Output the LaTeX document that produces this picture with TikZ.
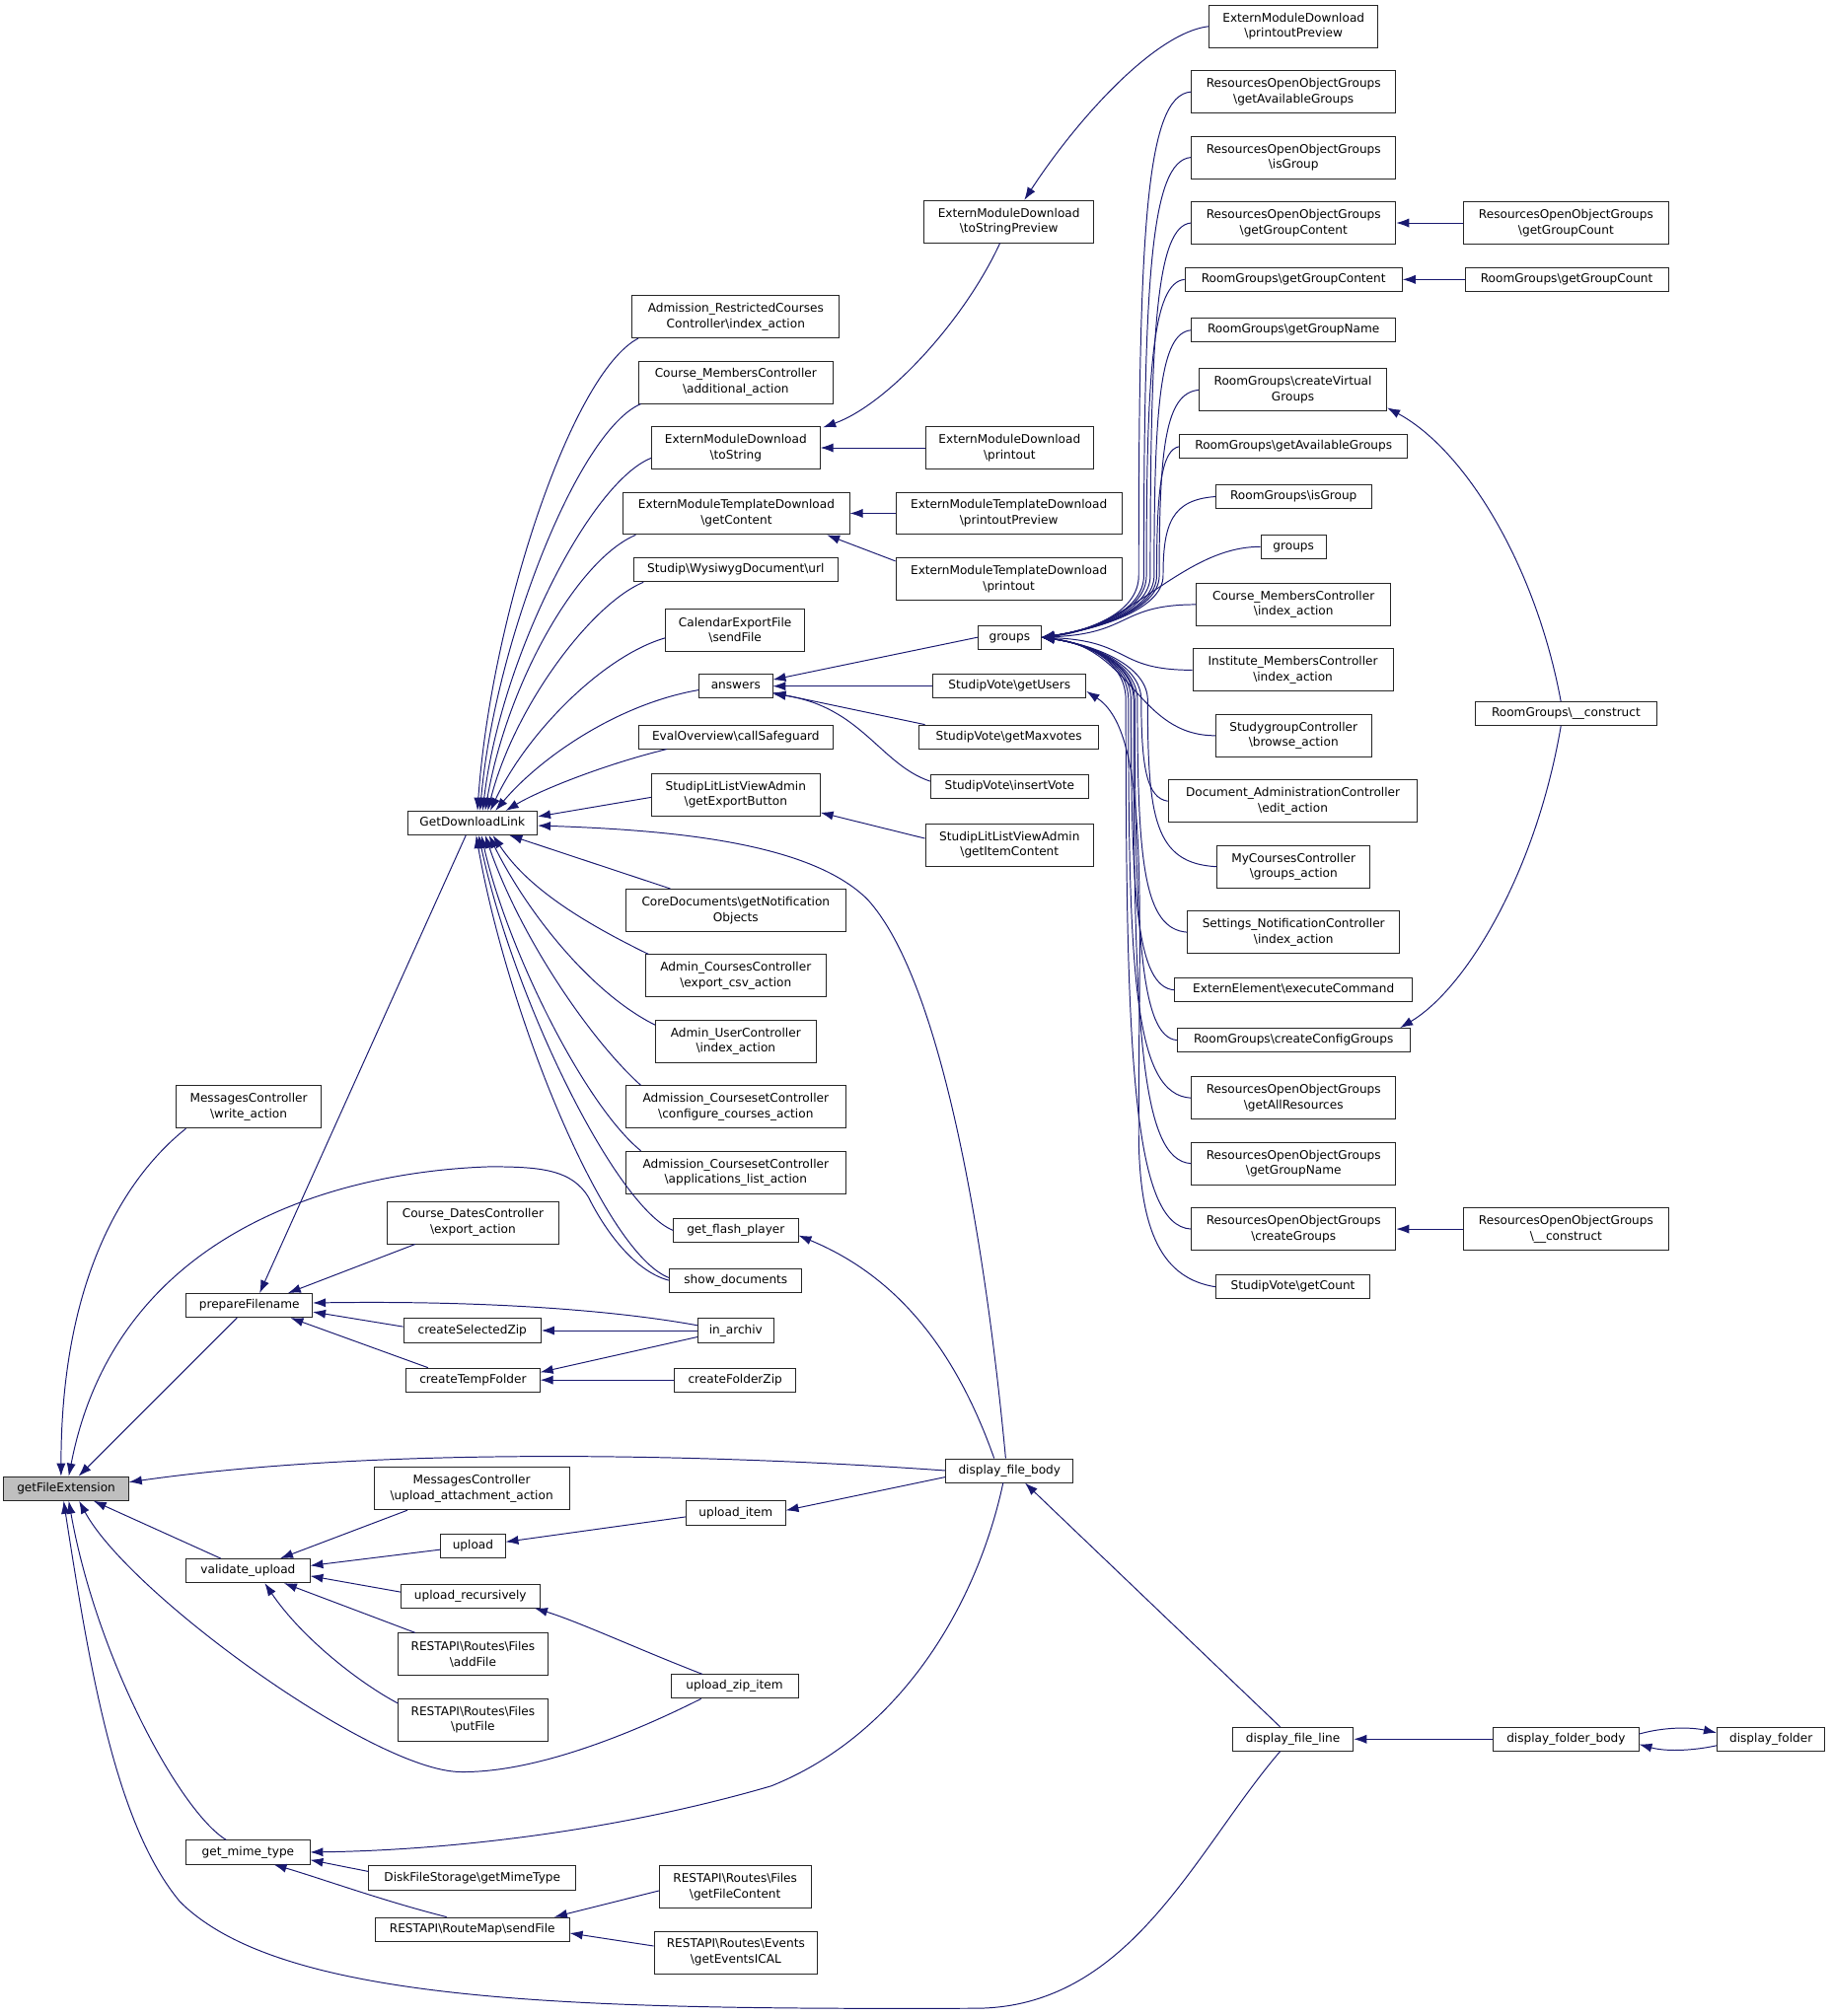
\documentclass[tikz,border=0pt]{standalone}
\usepackage{fontspec}
\setmainfont{DejaVu Sans}
\usepackage{tikz}
\usetikzlibrary{arrows.meta}
\definecolor{dox-edge}{RGB}{25,25,112}
\definecolor{dox-root}{RGB}{191,191,191}
\newcommand{\bsl}{\textbackslash}
\tikzstyle{fn}=[draw=black!85,line width=0.7pt,fill=white,inner sep=2pt,minimum height=18.5pt,text height=7pt,text depth=2.2pt,font=\fontsize{9.3pt}{12pt}\selectfont]
\tikzstyle{fn2}=[draw=black!85,line width=0.7pt,fill=white,inner sep=2pt,minimum height=33pt,align=center,font=\fontsize{9.3pt}{12pt}\selectfont]
\tikzstyle{root}=[fn,fill=dox-root]
\tikzstyle{call}=[draw=dox-edge,line width=0.75pt,-{Latex[length=10pt,width=7pt]}]

\begin{document}
\begin{tikzpicture}[x=1pt,y=-1pt]
  \useasboundingbox (0,0) rectangle (1425,1569);

  \node[root,minimum width=97pt] at (51.5,1158.5) (gfe) {getFileExtension};

  \node[fn2,minimum width=113pt] at (193.5,861.5) (writeact) {MessagesController\\\bsl write\_action};
  \node[fn,minimum width=98pt] at (194,1016) (prepfn) {prepareFilename};
  \node[fn,minimum width=96pt] at (193,1222.5) (valup) {validate\_upload};
  \node[fn,minimum width=96pt] at (193,1441.5) (getmime) {get\_mime\_type};

  \node[fn,minimum width=101pt] at (367.5,640.5) (gdl) {GetDownloadLink};
  \node[fn2,minimum width=134pt] at (368,951.5) (crsdates) {Course\_DatesController\\\bsl export\_action};
  \node[fn,minimum width=107pt] at (367.5,1035.5) (selzip) {createSelectedZip};
  \node[fn,minimum width=104pt] at (368,1074) (tmpfolder) {createTempFolder};
  \node[fn2,minimum width=152pt] at (367,1158.5) (upattach) {MessagesController\\\bsl upload\_attachment\_action};
  \node[fn,minimum width=50pt] at (368,1203) (upload) {upload};
  \node[fn,minimum width=108pt] at (366,1242) (uprec) {upload\_recursively};
  \node[fn2,minimum width=116pt] at (368,1287.5) (addfile) {RESTAPI\bsl Routes\bsl Files\\\bsl addFile};
  \node[fn2,minimum width=116pt] at (368,1338.5) (putfile) {RESTAPI\bsl Routes\bsl Files\\\bsl putFile};
  \node[fn,minimum width=161pt] at (367.5,1461.5) (diskmime) {DiskFileStorage\bsl getMimeType};
  \node[fn,minimum width=151pt] at (367.5,1501.5) (sendfile) {RESTAPI\bsl RouteMap\bsl sendFile};

  \node[fn2,minimum width=161pt] at (572.5,246.5) (admrestr) {Admission\_RestrictedCourses\\Controller\bsl index\_action};
  \node[fn2,minimum width=151pt] at (572.5,297.5) (crsmemadd) {Course\_MembersController\\\bsl additional\_action};
  \node[fn2,minimum width=131pt] at (572.5,348.5) (emdtostr) {ExternModuleDownload\\\bsl toString};
  \node[fn2,minimum width=176pt] at (573,399.5) (emtgetcont) {ExternModuleTemplateDownload\\\bsl getContent};
  \node[fn,minimum width=159pt] at (572.5,443.5) (wysiwyg) {Studip\bsl WysiwygDocument\bsl url};
  \node[fn2,minimum width=108pt] at (572,490.5) (calsend) {CalendarExportFile\\\bsl sendFile};
  \node[fn,minimum width=57pt] at (572.5,534) (answers) {answers};
  \node[fn,minimum width=151pt] at (572.5,573.5) (evalsafe) {EvalOverview\bsl callSafeguard};
  \node[fn2,minimum width=131pt] at (572.5,618.5) (litexport) {StudipLitListViewAdmin\\\bsl getExportButton};
  \node[fn2,minimum width=171pt] at (572.5,708.5) (corenotif) {CoreDocuments\bsl getNotification\\Objects};
  \node[fn2,minimum width=141pt] at (572.5,759.5) (admcourses) {Admin\_CoursesController\\\bsl export\_csv\_action};
  \node[fn2,minimum width=125pt] at (572.5,810.5) (admuser) {Admin\_UserController\\\bsl index\_action};
  \node[fn2,minimum width=171pt] at (572.5,861.5) (admconf) {Admission\_CoursesetController\\\bsl configure\_courses\_action};
  \node[fn2,minimum width=171pt] at (572.5,912.5) (admapps) {Admission\_CoursesetController\\\bsl applications\_list\_action};
  \node[fn,minimum width=97pt] at (572.5,957.5) (flash) {get\_flash\_player};
  \node[fn,minimum width=103pt] at (572.5,996.5) (showdocs) {show\_documents};
  \node[fn,minimum width=59pt] at (572.5,1035.5) (inarchiv) {in\_archiv};
  \node[fn,minimum width=94pt] at (572,1074) (folderzip) {createFolderZip};
  \node[fn,minimum width=77pt] at (572.5,1177.5) (upitem) {upload\_item};
  \node[fn,minimum width=99pt] at (571.5,1312.5) (upzip) {upload\_zip\_item};
  \node[fn2,minimum width=118pt] at (572,1468.5) (getfilecont) {RESTAPI\bsl Routes\bsl Files\\\bsl getFileContent};
  \node[fn2,minimum width=127pt] at (572.5,1519.5) (geticals) {RESTAPI\bsl Routes\bsl Events\\\bsl getEventsICAL};

  \node[fn2,minimum width=132pt] at (785,172.5) (emdprevstr) {ExternModuleDownload\\\bsl toStringPreview};
  \node[fn2,minimum width=131pt] at (785.5,348.5) (emdprint) {ExternModuleDownload\\\bsl printout};
  \node[fn2,minimum width=176pt] at (785,399.5) (emtprintprev) {ExternModuleTemplateDownload\\\bsl printoutPreview};
  \node[fn2,minimum width=176pt] at (785,450.5) (emtprint) {ExternModuleTemplateDownload\\\bsl printout};
  \node[fn,minimum width=49pt] at (785.5,496) (groups) {groups};
  \node[fn,minimum width=119pt] at (785.5,534) (getusers) {StudipVote\bsl getUsers};
  \node[fn,minimum width=140pt] at (785,573.5) (getmax) {StudipVote\bsl getMaxvotes};
  \node[fn,minimum width=123pt] at (785.5,612) (insvote) {StudipVote\bsl insertVote};
  \node[fn2,minimum width=131pt] at (785.5,657.5) (litcontent) {StudipLitListViewAdmin\\\bsl getItemContent};
  \node[fn,minimum width=99pt] at (785.5,1144.5) (filebody) {display\_file\_body};

  \node[fn2,minimum width=131pt] at (1006.5,20.5) (emdprintprev) {ExternModuleDownload\\\bsl printoutPreview};
  \node[fn2,minimum width=159pt] at (1006.5,71.5) (roogavail) {ResourcesOpenObjectGroups\\\bsl getAvailableGroups};
  \node[fn2,minimum width=159pt] at (1006.5,122.5) (roogis) {ResourcesOpenObjectGroups\\\bsl isGroup};
  \node[fn2,minimum width=159pt] at (1006.5,173.5) (roogcont) {ResourcesOpenObjectGroups\\\bsl getGroupContent};
  \node[fn,minimum width=169pt] at (1006.5,217.5) (rgcont) {RoomGroups\bsl getGroupContent};
  \node[fn,minimum width=159pt] at (1006.5,257) (rgname) {RoomGroups\bsl getGroupName};
  \node[fn2,minimum width=146pt] at (1006,303.5) (rgvirt) {RoomGroups\bsl createVirtual\\Groups};
  \node[fn,minimum width=177pt] at (1006.5,347.5) (rgavail) {RoomGroups\bsl getAvailableGroups};
  \node[fn,minimum width=121pt] at (1006.5,386.5) (rgis) {RoomGroups\bsl isGroup};
  \node[fn,minimum width=51pt] at (1006.5,425.5) (groupsb) {groups};
  \node[fn2,minimum width=151pt] at (1006.5,470.5) (crsmemidx) {Course\_MembersController\\\bsl index\_action};
  \node[fn2,minimum width=156pt] at (1006,521.5) (instmem) {Institute\_MembersController\\\bsl index\_action};
  \node[fn2,minimum width=121pt] at (1006.5,572.5) (studygrp) {StudygroupController\\\bsl browse\_action};
  \node[fn2,minimum width=194pt] at (1006,623.5) (docadmin) {Document\_AdministrationController\\\bsl edit\_action};
  \node[fn2,minimum width=119pt] at (1006.5,674.5) (mycourses) {MyCoursesController\\\bsl groups\_action};
  \node[fn2,minimum width=165pt] at (1006.5,725.5) (notif) {Settings\_NotificationController\\\bsl index\_action};
  \node[fn,minimum width=185pt] at (1006.5,770.5) (extcmd) {ExternElement\bsl executeCommand};
  \node[fn,minimum width=181pt] at (1006.5,809.5) (rgconfig) {RoomGroups\bsl createConfigGroups};
  \node[fn2,minimum width=159pt] at (1006.5,854.5) (roogallres) {ResourcesOpenObjectGroups\\\bsl getAllResources};
  \node[fn2,minimum width=159pt] at (1006.5,905.5) (roogname) {ResourcesOpenObjectGroups\\\bsl getGroupName};
  \node[fn2,minimum width=159pt] at (1006.5,956.5) (roogcreate) {ResourcesOpenObjectGroups\\\bsl createGroups};
  \node[fn,minimum width=120pt] at (1006,1001.5) (svcount) {StudipVote\bsl getCount};
  \node[fn,minimum width=94pt] at (1006,1353.5) (fileline) {display\_file\_line};

  \node[fn2,minimum width=159pt] at (1218.5,173.5) (rooggcount) {ResourcesOpenObjectGroups\\\bsl getGroupCount};
  \node[fn,minimum width=158pt] at (1219,217.5) (rggcount) {RoomGroups\bsl getGroupCount};
  \node[fn,minimum width=141pt] at (1218.5,555.5) (rgconstr) {RoomGroups\bsl \_\_construct};
  \node[fn2,minimum width=159pt] at (1218.5,956.5) (roogconstr) {ResourcesOpenObjectGroups\\\bsl \_\_construct};
  \node[fn,minimum width=113pt] at (1218.5,1353.5) (folderbody) {display\_folder\_body};
  \node[fn,minimum width=84pt] at (1378,1353.5) (folder) {display\_folder};

  \draw[call] ([xshift=8pt]writeact.south west) .. controls +(-50,40) and +(0,-150) .. ([xshift=-4pt]gfe.north);
  \draw[call] (showdocs.west) .. controls (495,990) and (472,960) .. (458,932) .. controls (445,910) and (420,908) .. (381,908) .. controls (260,912) and (90,960) .. ([xshift=2pt]gfe.north);
  \draw[call] (prepfn) -- (gfe);
  \draw[call] (filebody.west) .. controls (560,1132) and (300,1125) .. ([yshift=5pt]gfe.east);
  \draw[call] (valup) -- (gfe);
  \draw[call] ([xshift=-26pt]upzip.south) .. controls (500,1345) and (420,1380) .. (358,1379) .. controls (290,1378) and (100,1240) .. ([xshift=10pt]gfe.south);
  \draw[call] ([xshift=-17pt]getmime.north) .. controls (140,1410) and (75,1290) .. ([xshift=2pt]gfe.south);
  \draw[call] ([xshift=-10pt]fileline.south) .. controls (930,1440) and (880,1562) .. (760,1563) .. controls (450,1564) and (220,1560) .. (140,1480) .. controls (90,1420) and (70,1300) .. ([xshift=-2pt]gfe.south);

  \draw[call] ([xshift=-5pt]gdl.south) -- ([xshift=8pt]prepfn.north);
  \draw[call] ([xshift=-45pt]crsdates.south) -- ([xshift=30pt]prepfn.north);
  \draw[call] ([yshift=4pt]inarchiv.west) .. controls (480,1020) and (380,1012) .. ([yshift=2pt]prepfn.east);
  \draw[call] ([yshift=3pt]selzip.west) -- ([yshift=-5pt]prepfn.east);
  \draw[call] ([xshift=-35pt]tmpfolder.north) -- ([xshift=32pt]prepfn.south);
  \draw[call] (inarchiv.west) -- (selzip.east);
  \draw[call] ([yshift=-5pt]inarchiv.west) -- ([yshift=6pt]tmpfolder.east);
  \draw[call] (folderzip.west) -- (tmpfolder.east);

  \draw[call] ([xshift=-50pt]upattach.south) -- ([xshift=25pt]valup.north);
  \draw[call] ([yshift=-3pt]upload.west) -- ([yshift=4pt]valup.east);
  \draw[call] ([yshift=3pt]uprec.west) -- ([yshift=-4pt]valup.east);
  \draw[call] ([xshift=-45pt]addfile.north) -- ([xshift=28pt]valup.south);
  \draw[call] ([yshift=-4pt]putfile.north west) .. controls (280,1310) and (235,1275) .. ([xshift=13pt]valup.south);
  \draw[call] ([yshift=-3pt]upitem.west) -- ([yshift=3pt]upload.east);
  \draw[call] ([yshift=-5pt]filebody.west) -- ([yshift=2pt]upitem.east);
  \draw[call] ([xshift=-25pt]upzip.north) .. controls (500,1285) and (450,1262) .. ([xshift=50pt]uprec.south);

  \draw[call] ([xshift=-5pt]filebody.south) .. controls (760,1250) and (700,1350) .. (600,1390) .. controls (480,1425) and (350,1440) .. (getmime.east);
  \draw[call] ([yshift=5pt]diskmime.west) -- ([yshift=-6pt]getmime.east);
  \draw[call] ([xshift=-20pt]sendfile.north) .. controls (300,1480) and (250,1462) .. ([xshift=20pt]getmime.south);
  \draw[call] ([yshift=-3pt]getfilecont.west) -- ([xshift=-12pt]sendfile.north east);
  \draw[call] ([yshift=5pt]geticals.west) -- ([yshift=-3pt]sendfile.east);

  \draw[call] ([xshift=5pt]admrestr.south west) .. controls (445,290) and (382,480) .. ([xshift=4pt]gdl.north);
  \draw[call] ([xshift=2pt]crsmemadd.south west) .. controls (450,335) and (385,500) .. ([xshift=6pt]gdl.north);
  \draw[call] ([yshift=-8pt]emdtostr.west) .. controls (460,375) and (390,510) .. ([xshift=8pt]gdl.north);
  \draw[call] ([xshift=10pt]emtgetcont.south west) .. controls (450,435) and (395,530) .. ([xshift=10pt]gdl.north);
  \draw[call] ([xshift=8pt]wysiwyg.south west) .. controls (460,470) and (400,550) .. ([xshift=12pt]gdl.north);
  \draw[call] ([yshift=-6pt]calsend.west) .. controls (470,510) and (410,570) .. ([xshift=14pt]gdl.north);
  \draw[call] ([yshift=-3pt]answers.west) .. controls (480,548) and (420,590) .. ([xshift=18pt]gdl.north);
  \draw[call] ([xshift=22pt]evalsafe.south west) .. controls (470,595) and (420,615) .. ([xshift=26pt]gdl.north);
  \draw[call] ([yshift=-2pt]litexport.west) -- ([yshift=5pt]gdl.east);
  \draw[call] ([xshift=35pt]corenotif.north west) -- ([xshift=-22pt]gdl.south east);
  \draw[call] ([xshift=3pt]admcourses.north west) .. controls (450,716) and (410,690) .. ([xshift=16pt]gdl.south);
  \draw[call] ([yshift=-4pt]admuser.north west) .. controls (460,773) and (410,710) .. ([xshift=13pt]gdl.south);
  \draw[call] ([xshift=12pt]admconf.north west) .. controls (460,810) and (405,730) .. ([xshift=10pt]gdl.south);
  \draw[call] ([xshift=12pt]admapps.north west) .. controls (455,860) and (395,740) .. ([xshift=7pt]gdl.south);
  \draw[call] (flash.west) .. controls (480,940) and (400,780) .. ([xshift=5pt]gdl.south);
  \draw[call] ([yshift=2pt]showdocs.west) .. controls (470,975) and (395,790) .. ([xshift=3pt]gdl.south);
  \draw[call] ([xshift=-3pt]filebody.north) .. controls (765,950) and (730,760) .. (675,700) .. controls (630,655) and (520,646) .. ([yshift=-2pt]gdl.east);

  \draw[call] ([xshift=-7pt]emdprevstr.south) .. controls (750,250) and (690,315) .. ([xshift=2pt,yshift=-1pt]emdtostr.north east);
  \draw[call] (emdprint.west) -- (emdtostr.east);
  \draw[call] (emtprintprev.west) -- (emtgetcont.east);
  \draw[call] ([yshift=-3pt]emtprint.north west) -- ([xshift=-18pt]emtgetcont.south east);
  \draw[call] (groups.west) -- ([yshift=5pt]answers.east);
  \draw[call] (getusers.west) -- (answers.east);
  \draw[call] ([xshift=5pt]getmax.north west) -- ([yshift=-5pt]answers.east);
  \draw[call] ([yshift=4pt]insvote.west) .. controls (685,595) and (670,550) .. ([yshift=-6pt]answers.east);
  \draw[call] ([yshift=5pt]litcontent.west) -- ([yshift=3pt]litexport.south east);
  \draw[call] ([xshift=-12pt]filebody.north) .. controls (740,1040) and (690,990) .. ([yshift=-4pt]flash.east);
  \draw[call] ([xshift=-10pt]fileline.north) -- ([xshift=12pt]filebody.south);
  \draw[call] (folderbody.west) -- (fileline.east);
  \draw[call] ([yshift=4pt]folderbody.east) .. controls (1295,1344) and (1315,1344) .. ([yshift=5pt]folder.west);
  \draw[call] ([yshift=-5pt]folder.west) .. controls (1315,1363) and (1295,1363) .. ([yshift=-4pt]folderbody.east);

  \draw[call] (emdprintprev.west) .. controls (900,25) and (840,90) .. ([xshift=12pt]emdprevstr.north);
  \draw[call] (roogavail.west) .. controls (891,74) and (886,184) .. (886,448) .. controls (886,475) and (852,490) .. (groups.east);
  \draw[call] (roogis.west) .. controls (895,125) and (890,220) .. (890,448) .. controls (890,475) and (852,490) .. (groups.east);
  \draw[call] (roogcont.west) .. controls (900,176) and (895,256) .. (895,448) .. controls (895,475) and (852,490) .. (groups.east);
  \draw[call] (rgcont.west) .. controls (897,220) and (892,287) .. (892,448) .. controls (892,475) and (852,490) .. (groups.east);
  \draw[call] (rgname.west) .. controls (903,259) and (898,314) .. (898,448) .. controls (898,475) and (852,490) .. (groups.east);
  \draw[call] (rgvirt.west) .. controls (907,306) and (902,347) .. (902,448) .. controls (902,475) and (852,490) .. (groups.east);
  \draw[call] (rgavail.west) .. controls (904,350) and (900,378) .. (900,448) .. controls (900,475) and (852,490) .. (groups.east);
  \draw[call] (rgis.west) .. controls (912,389) and (905,407) .. (905,448) .. controls (905,475) and (852,490) .. (groups.east);
  \draw[call] (groupsb.west) .. controls +(-60,0) and +(70,-7) .. (groups.east);
  \draw[call] (crsmemidx.west) .. controls +(-60,0) and +(70,-3) .. (groups.east);
  \draw[call] (instmem.west) .. controls +(-60,0) and +(70,3) .. (groups.east);
  \draw[call] (studygrp.west) .. controls +(-60,0) and +(70,8) .. (groups.east);
  \draw[call] (docadmin.west) .. controls (893,621) and (888,600) .. (888,545) .. controls (888,518) and (852,502) .. (groups.east);
  \draw[call] (mycourses.west) .. controls (898,672) and (893,636) .. (893,545) .. controls (893,518) and (852,502) .. (groups.east);
  \draw[call] (notif.west) .. controls (890,723) and (885,671) .. (885,545) .. controls (885,518) and (852,502) .. (groups.east);
  \draw[call] (extcmd.west) .. controls (885,768) and (880,703) .. (880,545) .. controls (880,518) and (852,502) .. (groups.east);
  \draw[call] (rgconfig.west) .. controls (888,807) and (883,730) .. (883,545) .. controls (883,518) and (852,502) .. (groups.east);
  \draw[call] (roogallres.west) .. controls (883,852) and (878,762) .. (878,545) .. controls (878,518) and (852,502) .. (groups.east);
  \draw[call] (roogname.west) .. controls (887,903) and (882,797) .. (882,545) .. controls (882,518) and (852,502) .. (groups.east);
  \draw[call] (roogcreate.west) .. controls (881,954) and (876,818) .. (876,545) .. controls (876,518) and (852,502) .. (groups.east);
  \draw[call] (svcount.west) .. controls (905,995) and (886,960) .. (886,880) .. controls (886,700) and (895,570) .. ([yshift=-4pt]getusers.east);

  \draw[call] (rooggcount.west) -- (roogcont.east);
  \draw[call] (rggcount.west) -- (rgcont.east);
  \draw[call] ([xshift=-4pt]rgconstr.north) .. controls (1195,440) and (1140,350) .. ([yshift=3pt]rgvirt.south east);
  \draw[call] ([xshift=-4pt]rgconstr.south) .. controls (1195,680) and (1140,770) .. ([xshift=-8pt]rgconfig.north east);
  \draw[call] (roogconstr.west) -- (roogcreate.east);

\end{tikzpicture}
\end{document}
